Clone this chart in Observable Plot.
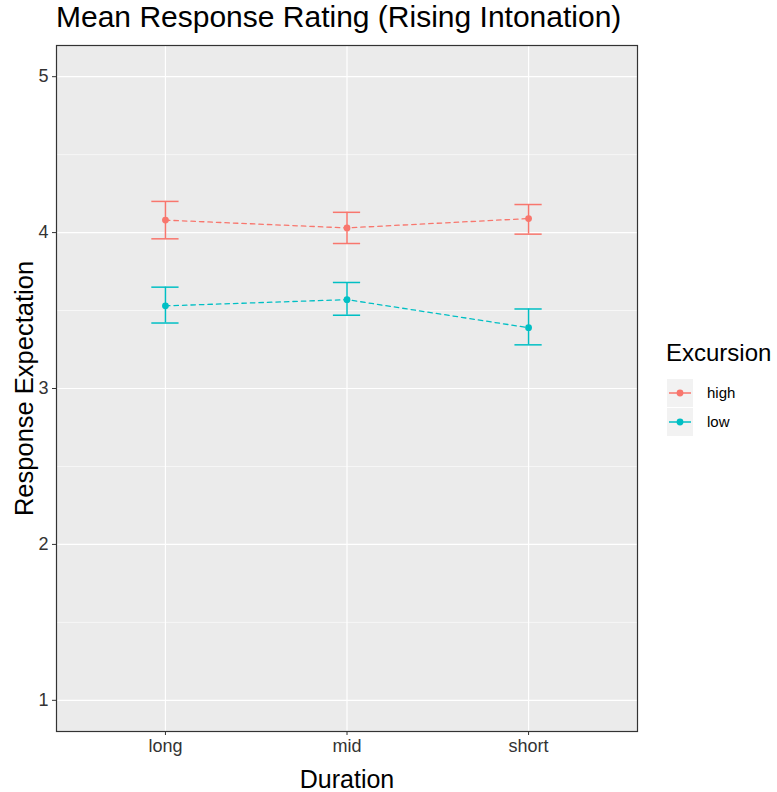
<!DOCTYPE html>
<html><head><meta charset="utf-8">
<script src="https://cdn.jsdelivr.net/npm/d3@7"></script>
<script src="https://cdn.jsdelivr.net/npm/@observablehq/plot@0.6"></script>
<style>
body{margin:0;background:#fff;font-family:"Liberation Sans",Arial,sans-serif;}
#wrap{position:relative;width:777px;height:792px;overflow:hidden;}
#chart{position:absolute;left:0;top:0;}
#title{position:absolute;left:56px;top:0px;font-size:30px;color:#000;white-space:nowrap;}
.lg{position:absolute;white-space:nowrap;}
</style></head><body>
<div id="wrap"><div id="chart"></div><div id="title">Mean Response Rating (Rising Intonation)</div><div id="legend"></div></div>
<script>
const durations = ["long", "mid", "short"];
const excursions = ["high", "low"];
const colors = ["#F8766D", "#00BFC4"];
const highMean = [4.08, 4.03, 4.09];
const highLower = [3.96, 3.93, 3.99];
const highUpper = [4.20, 4.13, 4.18];
const lowMean = [3.53, 3.57, 3.39];
const lowLower = [3.42, 3.47, 3.28];
const lowUpper = [3.65, 3.68, 3.51];
const yTicks = [1, 2, 3, 4, 5];
const yMinor = [1.5, 2.5, 3.5, 4.5];

const rows = [];
durations.forEach((d, i) => {
  rows.push({i, dur: d, exc: "high", mean: highMean[i], lo: highLower[i], hi: highUpper[i]});
});
durations.forEach((d, i) => {
  rows.push({i, dur: d, exc: "low", mean: lowMean[i], lo: lowLower[i], hi: lowUpper[i]});
});
const xIdx = durations.map((d, i) => i);
const capW = 0.075;

const chart = Plot.plot({
  width: 777,
  height: 792,
  marginLeft: 56,
  marginRight: 140,
  marginTop: 45,
  marginBottom: 61,
  style: {fontFamily: '"Liberation Sans", Arial, sans-serif', background: "transparent"},
  x: {type: "linear", domain: [-0.6, durations.length - 1 + 0.6]},
  y: {domain: [0.8, 5.2]},
  color: {domain: excursions, range: colors},
  marks: [
    Plot.frame({fill: "#EBEBEB"}),
    Plot.ruleY(yMinor, {stroke: "white", strokeWidth: 0.6}),
    Plot.ruleY(yTicks, {stroke: "white", strokeWidth: 1.2}),
    Plot.ruleX(xIdx, {stroke: "white", strokeWidth: 1.2}),
    Plot.line(rows, {x: "i", y: "mean", z: "exc", stroke: "exc", strokeWidth: 1.3, strokeDasharray: "4.5,4"}),
    Plot.ruleX(rows, {x: "i", y1: "lo", y2: "hi", stroke: "exc", strokeWidth: 1.5}),
    Plot.ruleY(rows, {y: "lo", x1: d => d.i - capW, x2: d => d.i + capW, stroke: "exc", strokeWidth: 1.5}),
    Plot.ruleY(rows, {y: "hi", x1: d => d.i - capW, x2: d => d.i + capW, stroke: "exc", strokeWidth: 1.5}),
    Plot.dot(rows, {x: "i", y: "mean", fill: "exc", r: 3.4}),
    Plot.frame({stroke: "#333", strokeWidth: 1.2}),
    Plot.axisX(xIdx, {tickFormat: i => durations[i], tickSize: 4, tickPadding: 4, fontSize: 18, color: "#333", label: null}),
    Plot.axisY(yTicks, {tickFormat: d => String(d), tickSize: 4, tickPadding: 4, fontSize: 18, color: "#333", label: null}),
    Plot.text(["Duration"], {frameAnchor: "bottom", lineAnchor: "middle", dy: 48, fontSize: 25, fill: "#000"}),
    Plot.text(["Response Expectation"], {frameAnchor: "left", textAnchor: "middle", lineAnchor: "middle", dx: -32, rotate: -90, fontSize: 25.5, fill: "#000"})
  ]
});
document.getElementById("chart").appendChild(chart);

// legend
const lg = document.getElementById("legend");
const t = document.createElement("div");
t.className = "lg";
t.style.cssText = "left:666px;top:339px;font-size:24px;color:#000;";
t.textContent = "Excursion";
lg.appendChild(t);
excursions.forEach((e, k) => {
  const top = 379 + k * 29;
  const key = document.createElement("div");
  key.className = "lg";
  key.style.cssText = `left:667px;top:${top}px;width:26px;height:28px;`;
  const svg = d3.create("svg").attr("width", 26).attr("height", 28);
  svg.append("rect").attr("width", 26).attr("height", 28).attr("fill", "#F2F2F2");
  svg.append("line").attr("x1", 2).attr("x2", 24).attr("y1", 14).attr("y2", 14).attr("stroke", colors[k]).attr("stroke-width", 1.5);
  svg.append("circle").attr("cx", 13).attr("cy", 14).attr("r", 3.4).attr("fill", colors[k]);
  key.appendChild(svg.node());
  lg.appendChild(key);
  const lab = document.createElement("div");
  lab.className = "lg";
  lab.style.cssText = `left:707px;top:${top + 5}px;font-size:15px;color:#000;`;
  lab.textContent = e;
  lg.appendChild(lab);
});
</script>
</body></html>
